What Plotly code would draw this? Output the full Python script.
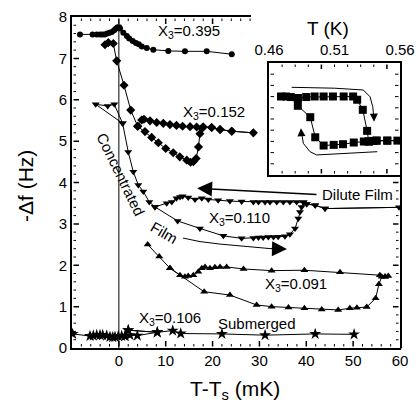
import plotly.graph_objects as go

# ---------------- data ----------------
# X3 = 0.395 (circles)
x395 = [-8.3, -5.6, -4.7, -4.0, -3.5, -3.0, -2.5, -2.0, -1.5, -1.0, -0.6, -0.25, 0.1, 0.25,
        0.95, 1.7, 2.2, 2.95, 3.65, 4.25, 4.9, 5.95, 7.35, 10.55, 14.1, 18.75, 24.1]
y395 = [7.58, 7.58, 7.58, 7.58, 7.58, 7.58, 7.60, 7.62, 7.64, 7.68, 7.72, 7.75, 7.75, 7.72,
        7.62, 7.54, 7.48, 7.42, 7.37, 7.34, 7.29, 7.25, 7.21, 7.18, 7.17, 7.17, 7.10]

# X3 = 0.152 (diamonds): upper path and lower loop
x152_up = [-2.96, -2.25, -1.19, -0.46, 1.10, 2.53, 4.02, 4.87, 5.36, 6.65, 8.07, 9.49, 10.9,
           12.3, 13.6, 15.2, 16.6, 18.0, 19.8, 21.6, 24.1, 28.7]
y152_up = [7.33, 7.38, 7.36, 6.94, 6.35, 5.75, 5.36, 5.51, 5.53, 5.49, 5.45, 5.43, 5.40,
           5.38, 5.36, 5.35, 5.34, 5.34, 5.33, 5.28, 5.24, 5.20]
x152_lo = [4.02, 5.58, 7.0, 8.42, 10.0, 11.6, 13.0, 14.5, 15.3, 15.9, 16.5, 17.0, 17.3, 17.7, 18.0]
y152_lo = [5.36, 5.23, 5.09, 4.96, 4.82, 4.72, 4.62, 4.54, 4.49, 4.50, 4.58, 4.86, 5.18, 5.31, 5.34]

# X3 = 0.110 (down triangles)
x110_up = [-4.94, -2.38, -0.97, 0.8, 2.0, 3.08, 4.15, 5.22, 6.5, 7.71, 10.2, 11.3, 12.3, 13.05,
           13.6, 14.8, 16.25, 17.7, 19.1, 21.2, 23.7, 26.2, 28.7, 29.8, 31.2, 32.25, 33.7, 35.1,
           36.5, 37.95, 39.4, 40.1, 41.9, 44.0, 59.8]
y110_up = [5.89, 5.85, 5.89, 5.43, 4.74, 4.26, 3.94, 3.78, 3.53, 3.41, 3.50, 3.53, 3.62, 3.65,
           3.67, 3.64, 3.59, 3.62, 3.59, 3.57, 3.55, 3.54, 3.53, 3.53, 3.53, 3.53, 3.53, 3.53,
           3.53, 3.53, 3.52, 3.48, 3.45, 3.37, 3.40]
x110_lo = [7.71, 12.55, 17.3, 22.3, 26.2, 28.7, 29.8, 30.8, 31.9, 33.0, 34.0, 35.45, 36.5, 37.6,
           38.3, 38.65, 39.0, 39.4]
y110_lo = [3.41, 3.07, 2.89, 2.71, 2.65, 2.66, 2.67, 2.67, 2.68, 2.68, 2.69, 2.70, 2.75, 2.89,
           3.13, 3.29, 3.41, 3.52]
x110_loop = [-4.94, 0.8]
y110_loop = [5.89, 5.43]

# X3 = 0.091 (up triangles)
x091_up = [6.15, 8.63, 10.9, 13.05, 14.1, 14.8, 15.9, 16.95, 17.7, 18.4, 19.45, 20.5, 21.6, 23.0,
           26.6, 32.6, 39.6, 47.2, 55.7, 56.8, 57.5]
y091_up = [2.50, 2.21, 1.93, 1.76, 1.72, 1.74, 1.76, 1.84, 1.93, 1.96, 1.93, 1.95, 1.96, 1.96,
           1.91, 1.87, 1.88, 1.83, 1.76, 1.72, 1.74]
x091_lo = [10.9, 18.2, 23.7, 29.4, 32.6, 36.2, 39.6, 43.3, 46.8, 49.3, 50.8, 52.9, 54.8, 55.5, 56.1]
y091_lo = [1.93, 1.36, 1.28, 1.04, 1.00, 0.98, 0.96, 0.93, 0.92, 0.96, 0.97, 0.99, 1.20, 1.54, 1.72]

# X3 = 0.106 submerged (stars)
x106 = [-9.85, -6.16, -5.45, -4.73, -4.02, -3.45, -2.6, -1.9, -1.3, -0.82, -0.12, 0.6, 1.31,
        2.38, 3.94, 8.2, 11.5, 13.2, 22.0, 31.2, 41.9, 50.2]
y106 = [0.34, 0.29, 0.30, 0.31, 0.31, 0.31, 0.30, 0.27, 0.26, 0.27, 0.29, 0.29, 0.29,
        0.31, 0.30, 0.38, 0.42, 0.35, 0.34, 0.31, 0.34, 0.33]
x106_b = [1.31, 2.0, 8.2]
y106_b = [0.29, 0.43, 0.38]

# T = Ts marker line
ts_x = [0, 0]
ts_y = [0, 7.75]

# inset: T (K) vs signal (arb. units)
tin_a = [0.4692, 0.4730, 0.4766, 0.4820, 0.4884, 0.4948, 0.5017, 0.5088, 0.5170, 0.5242, 0.5273,
         0.5316, 0.5349, 0.5362, 0.5395, 0.5421, 0.5503, 0.5580]
yin_a = [7.01, 7.01, 6.96, 6.87, 6.96, 7.01, 7.01, 7.01, 7.01, 7.01, 6.72,
         5.82, 3.94, 2.99, 3.04, 3.07, 3.07, 3.07]
tin_b = [0.4820, 0.4820, 0.4915, 0.4953, 0.5017, 0.5094, 0.5165, 0.5247, 0.5324, 0.5362]
yin_b = [6.87, 6.18, 5.16, 3.37, 2.63, 2.69, 2.75, 2.90, 2.99, 2.99]
arr_up_t = [0.4773, 0.5100, 0.5320, 0.5371, 0.5392, 0.5402]
arr_up_y = [7.83, 7.75, 7.59, 6.99, 6.10, 4.90]
arr_lo_t = [0.5427, 0.5142, 0.4964, 0.4913, 0.4862, 0.4846]
arr_lo_y = [2.08, 1.875, 1.79, 2.08, 2.83, 4.00]

# curved "Film" arrow
film_x = [13.69, 17.32, 21.58, 26.92, 32.25, 35.3]
film_y = [2.657, 2.572, 2.512, 2.452, 2.403, 2.393]

# axis extents, tick values
x_range = [-10, 60]
y_range = [0, 8]
x_top_end = 28.2        # main top frame stops where the inset region starts
y_right_end = 4.181     # main right frame stops at the inset's bottom edge
t_range = [0.46, 0.56]
s_range = [0, 10]
x_ticklabels = [0, 10, 20, 30, 40, 50, 60]
y_ticklabels = [0, 1, 2, 3, 4, 5, 6, 7, 8]
t_ticklabels = [0.46, 0.51, 0.56]

# ---------------- geometry ----------------
W, H = 416, 405
FRAME = dict(l=72, r=400, t=17, b=348)     # frame of the main panel (px)
PAD = 2                                     # plot area is PAD px larger than the frame
ML, MR = FRAME["l"] - PAD, W - FRAME["r"] - PAD
MT, MB = FRAME["t"] - PAD, H - FRAME["b"] - PAD
plot_w = W - ML - MR
plot_h = H - MT - MB
px_x = (FRAME["r"] - FRAME["l"]) / (x_range[1] - x_range[0])
px_y = (FRAME["b"] - FRAME["t"]) / (y_range[1] - y_range[0])
xr = [x_range[0] - PAD / px_x, x_range[1] + PAD / px_x]
yr = [y_range[0] - PAD / px_y, y_range[1] + PAD / px_y]
INSET = dict(l=269, r=400, t=63, b=175)
x2_dom = [(INSET["l"] - ML) / plot_w, (INSET["r"] - ML) / plot_w]
y2_dom = [(H - MB - INSET["b"]) / plot_h, (H - MB - INSET["t"]) / plot_h]
px_t = (INSET["r"] - INSET["l"]) / (t_range[1] - t_range[0])
px_s = (INSET["b"] - INSET["t"]) / (s_range[1] - s_range[0])

def paper_x(px):
    return (px - ML) / plot_w

def paper_y(py):
    return (H - MB - py) / plot_h

FONT = "Liberation Sans, Arial, sans-serif"
K = "black"

fig = go.Figure()

def series(x, y, sym, size, mode="lines+markers", xa="x", ya="y", width=1):
    fig.add_trace(go.Scatter(x=x, y=y, mode=mode, xaxis=xa, yaxis=ya,
                             line=dict(color=K, width=width),
                             marker=dict(symbol=sym, size=size, color=K),
                             showlegend=False, hoverinfo="skip"))

# each hysteresis branch set is drawn as one connected path (shared segments retraced)
p152_x = x152_up[:7] + x152_lo[1:] + x152_up[18:] + x152_up[6:-1][::-1]
p152_y = y152_up[:7] + y152_lo[1:] + y152_up[18:] + y152_up[6:-1][::-1]
p110_x = [x110_loop[1]] + x110_up[:10] + x110_lo[1:] + x110_up[31:] + x110_up[9:-1][::-1]
p110_y = [y110_loop[1]] + y110_up[:10] + y110_lo[1:] + y110_up[31:] + y110_up[9:-1][::-1]
p091_x = x091_up[:3] + x091_lo[1:] + x091_up[19:] + x091_up[2:-1][::-1]
p091_y = y091_up[:3] + y091_lo[1:] + y091_up[19:] + y091_up[2:-1][::-1]
p106_x = x106[:16] + x106_b[::-1][1:] + x106_b[1:] + x106[16:]
p106_y = y106[:16] + y106_b[::-1][1:] + y106_b[1:] + y106[16:]
pin_x = tin_a[:4] + tin_b[1:] + tin_a[14:] + tin_a[3:-1][::-1]
pin_y = yin_a[:4] + yin_b[1:] + yin_a[14:] + yin_a[3:-1][::-1]

series(ts_x, ts_y, "circle", 1, mode="lines")
series(x395, y395, "circle", 6)
series(p152_x, p152_y, "diamond", 7)
series(p110_x, p110_y, "triangle-down", 7)
series(p091_x, p091_y, "triangle-up", 7)
series(p106_x, p106_y, "star", 9)
series(film_x, film_y, "circle", 1, mode="lines")
series(pin_x, pin_y, "square", 8, xa="x2", ya="y2")
series(arr_up_t, arr_up_y, "circle", 1, mode="lines", xa="x2", ya="y2")
series(arr_lo_t, arr_lo_y, "circle", 1, mode="lines", xa="x2", ya="y2")

# ---------------- frame: left + bottom as a polyline ----------------
xl = x_range[0] - 1 / px_x
xrt = x_range[1] + 1 / px_x
yb = y_range[0] - 1 / px_y
yt = y_range[1] + 1 / px_y
series([xl, xl, xrt], [yt + 1 / px_y, yb, yb], "circle", 1, mode="lines", width=2)

# ---------------- partial top/right frame and inside ticks as plain annotation lines ----------------
def seg(x0, y0, x1, y1, w, xa="x", ya="y"):
    fig.add_annotation(x=x1, y=y1, ax=x0, ay=y0, xref=xa, yref=ya, axref=xa, ayref=ya,
                       text="", showarrow=True, arrowhead=0, arrowwidth=w, arrowcolor=K,
                       standoff=0, startstandoff=0)

seg(xl - 1 / px_x, yt, x_top_end, yt, 2)          # top (partial)
seg(xrt, yb - 1 / px_y, xrt, y_right_end, 2)      # right (partial)

def seq(a, b, step):
    out, n = [], 0
    while a + n * step <= b + 1e-9:
        out.append(round(a + n * step, 6))
        n += 1
    return out

def is_major(v, step):
    return abs(v / step - round(v / step)) < 1e-6

MAJ, MIN = 7, 4
for v in seq(x_range[0] + 2, x_range[1] - 2, 2):            # bottom
    L, w = (MAJ, 1.5) if is_major(v, 10) else (MIN, 1)
    seg(v, y_range[0], v, y_range[0] + L / px_y, w)
for v in seq(x_range[0] + 2, x_top_end, 2):                 # top (partial)
    L, w = (MAJ, 1.5) if is_major(v, 10) else (MIN, 1)
    seg(v, y_range[1], v, y_range[1] - L / px_y, w)
for v in seq(y_range[0] + 0.2, y_range[1] - 0.2, 0.2):      # left
    L, w = (MAJ, 1.5) if is_major(v, 1) else (MIN, 1)
    seg(x_range[0], v, x_range[0] + L / px_x, v, w)
for v in seq(y_range[0] + 0.2, y_right_end, 0.2):           # right (partial)
    L, w = (MAJ, 1.5) if is_major(v, 1) else (MIN, 1)
    seg(x_range[1], v, x_range[1] - L / px_x, v, w)

for v in seq(t_range[0] + 0.01, t_range[1] - 0.01, 0.01):   # inset top / bottom
    L, w = (6, 1.5) if is_major(v, 0.05) else (4, 1)
    seg(v, s_range[0], v, s_range[0] + L / px_s, w, "x2", "y2")
    seg(v, s_range[1], v, s_range[1] - L / px_s, w, "x2", "y2")
for v in seq(s_range[0] + 1, s_range[1] - 1, 1):            # inset left / right
    seg(t_range[0], v, t_range[0] + 5 / px_t, v, 1, "x2", "y2")
    seg(t_range[1], v, t_range[1] - 5 / px_t, v, 1, "x2", "y2")

# ---------------- layout ----------------
tickfont = dict(family=FONT, size=15, color=K)
plain = dict(showgrid=False, zeroline=False, ticks="", tickfont=tickfont, automargin=False)

fig.update_layout(
    template="none",
    width=W, height=H,
    margin=dict(l=ML, r=MR, t=MT, b=MB),
    paper_bgcolor="white", plot_bgcolor="rgba(0,0,0,0)",
    font=dict(family=FONT, color=K),
    xaxis=dict(domain=[0, 1], range=xr, tickvals=x_ticklabels, showline=False,
               anchor="y", **plain),
    yaxis=dict(domain=[0, 1], range=yr, tickvals=y_ticklabels, showline=False,
               anchor="x", ticklabelstandoff=2, **plain),
    xaxis2=dict(domain=x2_dom, range=t_range, anchor="y2", side="top",
                tickvals=t_ticklabels, ticktext=["%.2f" % v for v in t_ticklabels],
                showline=True, linecolor=K, linewidth=2, mirror=True, **plain),
    yaxis2=dict(domain=y2_dom, range=s_range, anchor="x2", showticklabels=False,
                showline=True, linecolor=K, linewidth=2, mirror=True, **plain),
)

ann_font = dict(family=FONT, size=15, color=K)
labels = [
    ("X<sub>3</sub>=0.395", 15.0, 7.65, 0),
    ("X<sub>3</sub>=0.152", 20.2, 5.70, 0),
    ("X<sub>3</sub>=0.110", 25.85, 3.13, 0),
    ("X<sub>3</sub>=0.091", 37.8, 1.53, 0),
    ("X<sub>3</sub>=0.106", 10.9, 0.72, 0),
    ("Submerged", 29.5, 0.59, 0),
    ("Dilute Film", 50.9, 3.72, 0),
    ("Concentrated", 0.46, 4.2, 64),
    ("Film", 9.6, 2.79, 30),
]
for txt, x, y, ang in labels:
    fig.add_annotation(text=txt, x=x, y=y, xref="x", yref="y", showarrow=False,
                       textangle=ang, font=ann_font, xanchor="center", yanchor="middle")

# arrows
fig.add_annotation(x=16.7, y=3.86, ax=42.5, ay=3.71, xref="x", yref="y", axref="x", ayref="y",
                   text="", showarrow=True, arrowhead=2, arrowsize=2, arrowwidth=1.5, arrowcolor=K)
fig.add_annotation(x=35.88, y=2.391, ax=32.25, ay=2.403, xref="x", yref="y", axref="x", ayref="y",
                   text="", showarrow=True, arrowhead=2, arrowsize=2, arrowwidth=1.5, arrowcolor=K)
fig.add_annotation(x=0.5402, y=4.76, ax=0.5400, ay=5.6, xref="x2", yref="y2", axref="x2", ayref="y2",
                   text="", showarrow=True, arrowhead=2, arrowsize=1.6, arrowwidth=1, arrowcolor=K)
fig.add_annotation(x=0.4844, y=4.17, ax=0.4848, ay=3.4, xref="x2", yref="y2", axref="x2", ayref="y2",
                   text="", showarrow=True, arrowhead=2, arrowsize=1.6, arrowwidth=1, arrowcolor=K)

# axis titles
title_font = dict(family=FONT, size=21, color=K)
fig.add_annotation(text="-Δf (Hz)", x=paper_x(25), y=paper_y(186), xref="paper", yref="paper",
                   showarrow=False, textangle=-90, font=title_font, xanchor="center", yanchor="middle")
fig.add_annotation(text="T-T<sub>s</sub> (mK)", x=paper_x(235), y=paper_y(390), xref="paper",
                   yref="paper", showarrow=False, font=title_font, xanchor="center", yanchor="middle")
fig.add_annotation(text="T (K)", x=paper_x(327.5), y=paper_y(28.6), xref="paper", yref="paper",
                   showarrow=False, font=dict(family=FONT, size=19, color=K),
                   xanchor="center", yanchor="middle")

fig.write_html("out.html")
